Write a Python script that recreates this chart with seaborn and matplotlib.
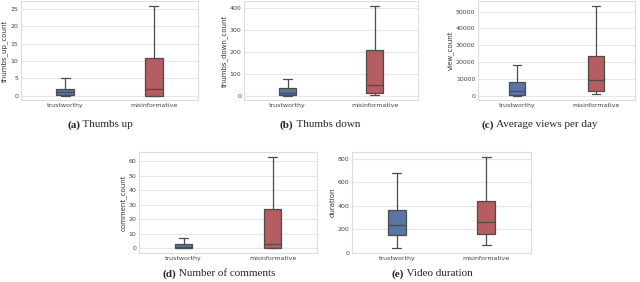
import numpy as np
import pandas as pd
import matplotlib
matplotlib.use("Agg")
import matplotlib.pyplot as plt
import seaborn as sns

# five-number summaries: min, q1, median, q3, max
groups = ["trustworthy", "misinformative"]
thumbs_up = {"trustworthy": [0, 0.2, 1, 2, 5],
             "misinformative": [0, 0, 2, 10.7, 26]}
thumbs_down = {"trustworthy": [0, 3, 10, 33, 75],
               "misinformative": [3, 10, 46, 209, 413]}
view_count = {"trustworthy": [0, 500, 2500, 8100, 18200],
              "misinformative": [600, 2500, 9300, 23600, 53700]}
comment_count = {"trustworthy": [0, 0, 1, 3.2, 7.1],
                 "misinformative": [0, 0, 3, 26.8, 63.2]}
duration = {"trustworthy": [37, 150, 233, 363, 675],
            "misinformative": [62, 159, 261, 440, 817]}

panels = [
    ("thumbs_up_count", thumbs_up, "(a)", " Thumbs up"),
    ("thumbs_down_count", thumbs_down, "(b)", " Thumbs down"),
    ("view_count", view_count, "(c)", " Average views per day"),
    ("comment_count", comment_count, "(d)", " Number of comments"),
    ("duration", duration, "(e)", " Video duration"),
]

W, H = 640, 282
# axes boxes in pixels: left, top, right, bottom ; caption centre x, y
boxes = [
    (21, 1, 198, 100, 100, 125),
    (244, 1, 418, 100, 320, 125),
    (478, 1, 635, 100, 540, 125),
    (139, 152, 317, 253, 219, 274),
    (352, 152, 531, 253, 432, 274),
]

sns.set_theme(style="whitegrid")
plt.rcParams["axes.edgecolor"] = "#dddddd"
plt.rcParams["grid.color"] = "#e6e6e6"

fig = plt.figure(figsize=(W / 100, H / 100), dpi=100)
renderer = fig.canvas.get_renderer()

for (col, summary, tag, caption), (l, t, r, b, cx, cy) in zip(panels, boxes):
    rows = [(g, v) for g in groups for v in summary[g]]
    df = pd.DataFrame(rows, columns=["label", col])
    ax = fig.add_axes([l / W, 1 - b / H, (r - l) / W, (b - t) / H])
    sns.boxplot(data=df, x="label", y=col, hue="label",
                palette=["#4c72b0", "#c44e52"], width=0.2,
                whis=(0, 100), showfliers=False, linewidth=0.9,
                ax=ax, legend=False)
    ax.set_xlabel("")
    ax.set_ylabel(col, fontsize=5, labelpad=1.5, color="#333333")
    ax.tick_params(axis="both", labelsize=4.5, pad=2, length=0,
                   labelcolor="#444444")
    for s in ax.spines.values():
        s.set_linewidth(0.8)
    ax.grid(True, axis="y", linewidth=0.8)
    ax.grid(False, axis="x")

    # caption: bold tag + regular text, centred together
    t1 = fig.text(0, 0, tag, fontsize=8, fontweight="bold",
                  family="Liberation Serif", va="center")
    t2 = fig.text(0, 0, caption, fontsize=8, family="Liberation Serif",
                  va="center")
    w1 = t1.get_window_extent(renderer).width
    w2 = t2.get_window_extent(renderer).width
    x0 = cx - (w1 + w2) / 2
    t1.set_position((x0 / W, 1 - cy / H))
    t2.set_position(((x0 + w1) / W, 1 - cy / H))

fig.savefig("out.png", dpi=100)
